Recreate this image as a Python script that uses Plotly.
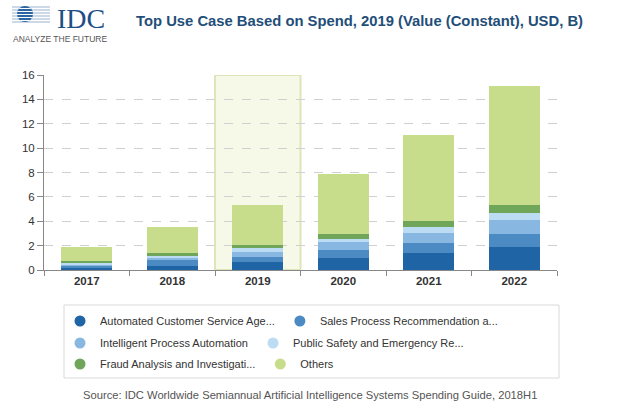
import plotly.graph_objects as go
import math

years = ["2017", "2018", "2019", "2020", "2021", "2022"]
series_names = [
    "Automated Customer Service Age...",
    "Sales Process Recommendation a...",
    "Intelligent Process Automation",
    "Public Safety and Emergency Re...",
    "Fraud Analysis and Investigati...",
    "Others",
]
automated = [0.22, 0.35, 0.66, 1.00, 1.40, 1.90]
sales = [0.14, 0.45, 0.42, 0.64, 0.80, 1.05]
ipa = [0.12, 0.20, 0.40, 0.62, 0.80, 1.15]
public_safety = [0.13, 0.18, 0.36, 0.30, 0.55, 0.60]
fraud = [0.09, 0.20, 0.20, 0.40, 0.50, 0.65]
others = [1.22, 2.17, 3.32, 4.90, 7.03, 9.75]
series_values = [automated, sales, ipa, public_safety, fraud, others]
colors = ["#1f64a4", "#4b8ac2", "#88b7e1", "#bcdcf3", "#6fa65a", "#c8dd8b"]
highlight_year = "2019"
y_ticks = [0, 2, 4, 6, 8, 10, 12, 14, 16]

FONT = "Arial, Liberation Sans, sans-serif"

fig = go.Figure()
for name, vals, col in zip(series_names, series_values, colors):
    fig.add_trace(go.Bar(x=years, y=vals, name=name, marker=dict(color=col, line=dict(width=0)),
                         width=0.6, showlegend=False))

legend_ids = ["legend", "legend", "legend2", "legend2", "legend3", "legend3"]
for name, col, lid in zip(series_names, colors, legend_ids):
    fig.add_trace(go.Scatter(x=[None], y=[None], mode="markers", name=name,
                             marker=dict(color=col, size=11, symbol="circle"),
                             legend=lid, showlegend=True))

# highlight box on 2019
hi = years.index(highlight_year)
fig.add_shape(type="rect", xref="x", yref="y", x0=hi - 0.5, x1=hi + 0.5, y0=0, y1=16,
              fillcolor="rgba(240,244,214,0.55)", line=dict(color="#dfe5b8", width=2), layer="below")

# geometry helpers (pixels -> paper)
L, R, T, B, W, H = 44, 81, 75, 133, 638, 403
pw, ph = W - L - R, H - T - B
def px(x):
    return (x - L) / pw
def py(y):
    return (H - B - y) / ph

# legend box
fig.add_shape(type="rect", xref="paper", yref="paper", x0=px(64), x1=px(559), y0=py(305), y1=py(378),
              line=dict(color="#d9d9d9", width=1), fillcolor="rgba(0,0,0,0)")

# logo: globe with stripes
cx, cy, r = 25, 14, 8
stripe_ys = [7, 10, 13, 16, 19, 22]
for sy in stripe_ys:
    fig.add_shape(type="line", xref="paper", yref="paper", x0=px(12), x1=px(50), y0=py(sy), y1=py(sy),
                  line=dict(color="#9db3cf", width=1))
fig.add_shape(type="circle", xref="paper", yref="paper", x0=px(cx - r), x1=px(cx + r),
              y0=py(cy + r), y1=py(cy - r), fillcolor="#2c66a2", line=dict(width=0))
for sy in [8.5, 11.5, 14.5, 17.5, 20.5]:
    dy = sy - cy
    if abs(dy) < r:
        hw = math.sqrt(r * r - dy * dy)
        fig.add_shape(type="line", xref="paper", yref="paper", x0=px(cx - hw), x1=px(cx + hw),
                      y0=py(sy), y1=py(sy), line=dict(color="white", width=1))

fig.add_annotation(text="IDC", xref="paper", yref="paper", x=px(55), y=py(19), xanchor="left",
                   yanchor="middle", showarrow=False,
                   font=dict(family="Liberation Serif, DejaVu Serif, serif", size=28, color="#1d4f86"))
fig.add_annotation(text="ANALYZE THE FUTURE", xref="paper", yref="paper", x=px(11), y=py(39),
                   xanchor="left", yanchor="middle", showarrow=False,
                   font=dict(family=FONT, size=8.5, color="#555555"))

# title
fig.add_annotation(text="<b>Top Use Case Based on Spend, 2019 (Value (Constant), USD, B)</b>",
                   xref="paper", yref="paper", x=px(134), y=py(21), xanchor="left", yanchor="middle",
                   showarrow=False, font=dict(family=FONT, size=14.8, color="#1f4e79"))

# source
fig.add_annotation(text="Source: IDC Worldwide Semiannual Artificial Intelligence Systems Spending Guide, 2018H1",
                   xref="paper", yref="paper", x=px(310), y=py(395), xanchor="center", yanchor="middle",
                   showarrow=False, font=dict(family=FONT, size=11.2, color="#555555"))

legend_common = dict(orientation="h", xanchor="left", yanchor="middle", x=px(60),
                     font=dict(family=FONT, size=11, color="#333333"),
                     bgcolor="rgba(0,0,0,0)", borderwidth=0, traceorder="normal")

fig.update_layout(
    width=W, height=H,
    margin=dict(l=L, r=R, t=T, b=B, pad=0),
    plot_bgcolor="white", paper_bgcolor="white",
    barmode="stack",
    font=dict(family=FONT, color="#333333"),
    legend=dict(y=py(321), **legend_common),
    legend2=dict(y=py(343), **legend_common),
    legend3=dict(y=py(364), **legend_common),
    xaxis=dict(type="category", tickson="boundaries", ticks="outside", ticklen=5, tickcolor="#888888",
               showline=True, linecolor="#888888", linewidth=1, showgrid=False,
               tickfont=dict(family=FONT, size=11.5, color="#333333"),
               tickprefix="<b>", ticksuffix="</b>"),
    yaxis=dict(range=[0, 16], tickvals=y_ticks, ticks="outside", ticklen=6, tickcolor="#888888",
               showline=True, linecolor="#888888", linewidth=1,
               showgrid=True, gridcolor="#d0d0d0", griddash="dash", gridwidth=1,
               zeroline=False, tickfont=dict(family=FONT, size=11.5, color="#333333")),
)

fig.write_html("out.html")
